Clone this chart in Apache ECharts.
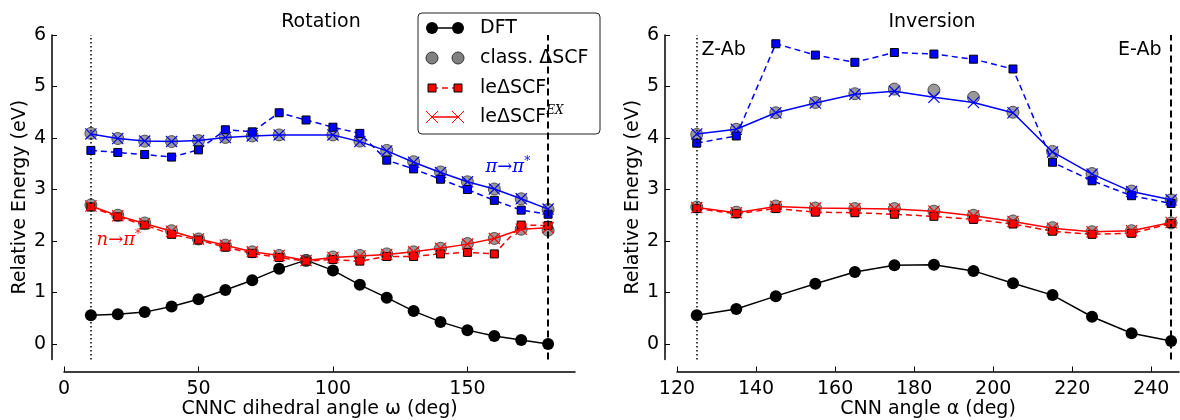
<!DOCTYPE html>
<html>
<head>
<meta charset="utf-8">
<script src="https://cdn.jsdelivr.net/npm/echarts@6/dist/echarts.min.js"></script>
<style>
html, body { margin: 0; background: #fff; }
#main { width: 1180px; height: 420px; }
</style>
</head>
<body>
<div id="main"></div>
<script>
// ---- data ----
var rotAngles = [10, 20, 30, 40, 50, 60, 70, 80, 90, 100, 110, 120, 130, 140, 150, 160, 170, 180];
var rotDFT     = [0.56, 0.58, 0.62, 0.73, 0.87, 1.05, 1.24, 1.46, 1.63, 1.43, 1.15, 0.90, 0.64, 0.43, 0.27, 0.155, 0.08, 0.0];
var rotNClass  = [2.70, 2.50, 2.35, 2.20, 2.04, 1.92, 1.79, 1.72, 1.62, 1.69, 1.72, 1.75, 1.79, 1.86, 1.95, 2.05, 2.23, 2.21];
var rotNLe     = [2.66, 2.47, 2.31, 2.13, 2.02, 1.88, 1.76, 1.68, 1.61, 1.64, 1.61, 1.70, 1.70, 1.75, 1.78, 1.75, 2.31, 2.30];
var rotNEx     = [2.68, 2.49, 2.34, 2.19, 2.04, 1.92, 1.79, 1.72, 1.62, 1.68, 1.71, 1.74, 1.79, 1.86, 1.94, 2.05, 2.23, 2.26];
var rotPiClass = [4.09, 3.99, 3.94, 3.93, 3.95, 4.01, 4.04, 4.06, null, 4.06, 3.94, 3.76, 3.54, 3.34, 3.15, 3.01, 2.82, 2.61];
var rotPiLe    = [3.76, 3.72, 3.68, 3.63, 3.77, 4.16, 4.12, 4.49, 4.35, 4.21, 4.09, 3.57, 3.40, 3.20, 3.00, 2.79, 2.60, 2.52];
var rotPiEx    = [4.08, 3.99, 3.94, 3.93, 3.95, 4.01, 4.04, 4.06, null, 4.06, 3.93, 3.75, 3.53, 3.33, 3.15, 3.01, 2.82, 2.62];

var invAngles  = [125, 135, 145, 155, 165, 175, 185, 195, 205, 215, 225, 235, 245];
var invDFT     = [0.56, 0.68, 0.93, 1.17, 1.40, 1.53, 1.54, 1.42, 1.18, 0.95, 0.53, 0.21, 0.06];
var invNClass  = [2.66, 2.56, 2.68, 2.64, 2.63, 2.63, 2.58, 2.50, 2.39, 2.26, 2.18, 2.20, 2.35];
var invNLe     = [2.63, 2.53, 2.63, 2.56, 2.55, 2.52, 2.48, 2.42, 2.33, 2.19, 2.13, 2.15, 2.34];
var invNEx     = [2.65, 2.55, 2.67, 2.64, 2.63, 2.62, 2.58, 2.49, 2.38, 2.25, 2.18, 2.20, 2.36];
var invPiClass = [4.07, 4.17, 4.49, 4.69, 4.86, 4.95, 4.93, 4.79, 4.50, 3.74, 3.31, 2.97, 2.80];
var invPiLe    = [3.90, 4.04, 5.83, 5.61, 5.47, 5.66, 5.63, 5.53, 5.34, 3.53, 3.17, 2.88, 2.73];
var invPiEx    = [4.08, 4.17, 4.49, 4.68, 4.85, 4.91, 4.79, 4.69, 4.49, 3.73, 3.30, 2.96, 2.80];

var yTicks    = [0, 1, 2, 3, 4, 5, 6];
var rotXTicks = [0, 50, 100, 150];
var invXTicks = [120, 140, 160, 180, 200, 220, 240];

// ---- styling ----
var FONT = 'DejaVu Sans';
var FS = 19;
var BLUE = '#0000ff', RED = '#ff0000', GREY = '#808080';
var XPATH = 'path://M0,0.7L0.7,0L10,9.3L9.3,10Z M9.3,0L10,0.7L0.7,10L0,9.3Z';

function pairs(xs, ys) {
  return xs.map(function (x, i) { return ys[i] == null ? null : [x, ys[i]]; })
           .filter(function (p) { return p; });
}

function xAx(gi, min, max, ticks, name) {
  return {
    type: 'value', gridIndex: gi, min: min, max: max, offset: 12,
    name: name, nameLocation: 'middle', nameGap: 28, nameMoveOverlap: false,
    nameTextStyle: { fontSize: FS, color: '#000', fontFamily: FONT },
    axisLine: { show: true, onZero: false, lineStyle: { color: '#000', width: 1.5 } },
    axisTick: { show: true, inside: true, length: 5, customValues: ticks, lineStyle: { color: '#000' } },
    axisLabel: { customValues: ticks, fontSize: FS, color: '#000', margin: 8, fontFamily: FONT },
    splitLine: { show: false }
  };
}

function yAx(gi) {
  return {
    type: 'value', gridIndex: gi, min: -0.3, max: 6, offset: 12,
    name: 'Relative Energy (eV)', nameLocation: 'middle', nameGap: 22, nameRotate: 90, nameMoveOverlap: false,
    nameTextStyle: { fontSize: FS, color: '#000', fontFamily: FONT },
    axisLine: { show: true, onZero: false, lineStyle: { color: '#000', width: 1.5 } },
    axisTick: { show: true, inside: true, length: 5, customValues: yTicks, lineStyle: { color: '#000' } },
    axisLabel: { customValues: yTicks, fontSize: FS, color: '#000', margin: 6, fontFamily: FONT },
    splitLine: { show: false }
  };
}

function txt(coord, text, color, rich) {
  return {
    coord: coord,
    label: { show: true, position: 'inside', formatter: text, color: color,
             fontSize: FS, fontFamily: FONT, rich: rich || {} }
  };
}

function mathRich(color) {
  return {
    p: { fontFamily: 'DejaVu Serif', fontStyle: 'italic', fontSize: 18, color: color, lineHeight: 22 },
    u: { fontFamily: 'DejaVu Serif', fontSize: 12, color: color, verticalAlign: 'top', lineHeight: 22 }
  };
}

function panel(gi, xs, dft, nC, nLe, nEx, piC, piLe, piEx, vlines, notes) {
  var s = [];
  s.push({
    type: 'line', xAxisIndex: gi, yAxisIndex: gi, z: 2,
    data: pairs(xs, dft), symbol: 'circle', symbolSize: 12,
    itemStyle: { color: '#000' }, lineStyle: { color: '#000', width: 1.5 },
    markLine: {
      silent: true, symbol: ['none', 'none'], label: { show: false },
      data: [
        { xAxis: vlines[0], lineStyle: { color: '#000', width: 1.5, type: [1.5, 2.5] } },
        { xAxis: vlines[1], lineStyle: { color: '#000', width: 2, type: [7, 4] } }
      ]
    },
    markPoint: {
      symbol: 'circle', symbolSize: 1, itemStyle: { color: 'rgba(0,0,0,0)' },
      data: notes
    }
  });
  [nC, piC].forEach(function (ys) {
    s.push({
      type: 'scatter', xAxisIndex: gi, yAxisIndex: gi, z: 3,
      data: pairs(xs, ys), symbol: 'circle', symbolSize: 12,
      itemStyle: { color: GREY, borderColor: '#333', borderWidth: 1 }
    });
  });
  [[nLe, RED], [piLe, BLUE]].forEach(function (d) {
    s.push({
      type: 'line', xAxisIndex: gi, yAxisIndex: gi, z: 4,
      data: pairs(xs, d[0]), symbol: 'rect', symbolSize: 8,
      itemStyle: { color: d[1], borderColor: '#000', borderWidth: 1 },
      lineStyle: { color: d[1], width: 1.5, type: [6, 4] }
    });
  });
  [[nEx, RED], [piEx, BLUE]].forEach(function (d) {
    s.push({
      type: 'line', xAxisIndex: gi, yAxisIndex: gi, z: 5,
      data: pairs(xs, d[0]), symbol: XPATH, symbolSize: 12,
      itemStyle: { color: d[1] },
      lineStyle: { color: d[1], width: 1.5 }
    });
  });
  return s;
}

var series = []
  .concat(panel(0, rotAngles, rotDFT, rotNClass, rotNLe, rotNEx, rotPiClass, rotPiLe, rotPiEx, [10, 180], [
    txt([165, 3.44], '{p|π→π}{u|*}', BLUE, mathRich(BLUE)),
    txt([20.4, 2.02], '{p|n→π}{u|*}', RED, mathRich(RED))
  ]))
  .concat(panel(1, invAngles, invDFT, invNClass, invNLe, invNEx, invPiClass, invPiLe, invPiEx, [125, 245], [
    txt([131.8, 5.71], 'Z-Ab', '#000'),
    txt([237.1, 5.71], 'E-Ab', '#000')
  ]));

// ---- legend drawn by hand (matplotlib style, two markers per entry) ----
var LX1 = 432, LX2 = 458, TX = 480, rows = [28, 58, 88, 117];
var leg = [];
leg.push({ type: 'rect', shape: { x: 418, y: 13, width: 182, height: 121, r: 4 },
           style: { fill: 'rgba(255,255,255,0.85)', stroke: '#222', lineWidth: 1 } });
// DFT
leg.push({ type: 'line', shape: { x1: LX1, y1: rows[0], x2: LX2, y2: rows[0] }, style: { stroke: '#000', lineWidth: 1.5 } });
[LX1, LX2].forEach(function (x) {
  leg.push({ type: 'circle', shape: { cx: x, cy: rows[0], r: 6 }, style: { fill: '#000' } });
  leg.push({ type: 'circle', shape: { cx: x, cy: rows[1], r: 6 }, style: { fill: GREY, stroke: '#333', lineWidth: 1 } });
});
// le dSCF
leg.push({ type: 'line', shape: { x1: LX1, y1: rows[2], x2: LX2, y2: rows[2] }, style: { stroke: RED, lineWidth: 1.5, lineDash: [6, 4] } });
[LX1, LX2].forEach(function (x) {
  leg.push({ type: 'rect', shape: { x: x - 4, y: rows[2] - 4, width: 8, height: 8 }, style: { fill: RED, stroke: '#000', lineWidth: 1 } });
});
// le dSCF EX
leg.push({ type: 'line', shape: { x1: LX1, y1: rows[3], x2: LX2, y2: rows[3] }, style: { stroke: RED, lineWidth: 1.5 } });
[LX1, LX2].forEach(function (x) {
  leg.push({ type: 'line', shape: { x1: x - 6, y1: rows[3] - 6, x2: x + 6, y2: rows[3] + 6 }, style: { stroke: RED, lineWidth: 1 } });
  leg.push({ type: 'line', shape: { x1: x - 6, y1: rows[3] + 6, x2: x + 6, y2: rows[3] - 6 }, style: { stroke: RED, lineWidth: 1 } });
});
var legTexts = ['DFT', 'class. ΔSCF', 'leΔSCF', 'leΔSCF{u|EX}'];
legTexts.forEach(function (t, i) {
  leg.push({ type: 'text', style: {
    text: t, x: TX, y: rows[i], textVerticalAlign: 'middle', fill: '#000',
    font: FS + 'px "DejaVu Sans"',
    rich: { u: { fontFamily: 'DejaVu Serif', fontStyle: 'italic', fontSize: 12, verticalAlign: 'top', lineHeight: 24 } }
  } });
});

var titles = [
  { type: 'text', style: { text: 'Rotation', x: 321, y: 22, textAlign: 'center', textVerticalAlign: 'middle', fill: '#000', font: FS + 'px "DejaVu Sans"' } },
  { type: 'text', style: { text: 'Inversion', x: 932, y: 22, textAlign: 'center', textVerticalAlign: 'middle', fill: '#000', font: FS + 'px "DejaVu Sans"' } }
];

var myChart = echarts.init(document.getElementById('main'), null, { renderer: 'canvas' });
var option = {
  backgroundColor: '#fff',
  animation: false,
  textStyle: { fontFamily: FONT },
  grid: [
    { left: 64, top: 35, width: 511, height: 324.5, containLabel: false, outerBoundsMode: 'none' },
    { left: 677, top: 35, width: 502, height: 324.5, containLabel: false, outerBoundsMode: 'none' }
  ],
  xAxis: [
    xAx(0, 0, 190, rotXTicks, 'CNNC dihedral angle ω (deg)'),
    xAx(1, 120, 247, invXTicks, 'CNN angle α (deg)')
  ],
  yAxis: [yAx(0), yAx(1)],
  series: series,
  graphic: [{ type: 'group', z: 100, children: titles.concat(leg) }]
};
myChart.setOption(option);
</script>
</body>
</html>
